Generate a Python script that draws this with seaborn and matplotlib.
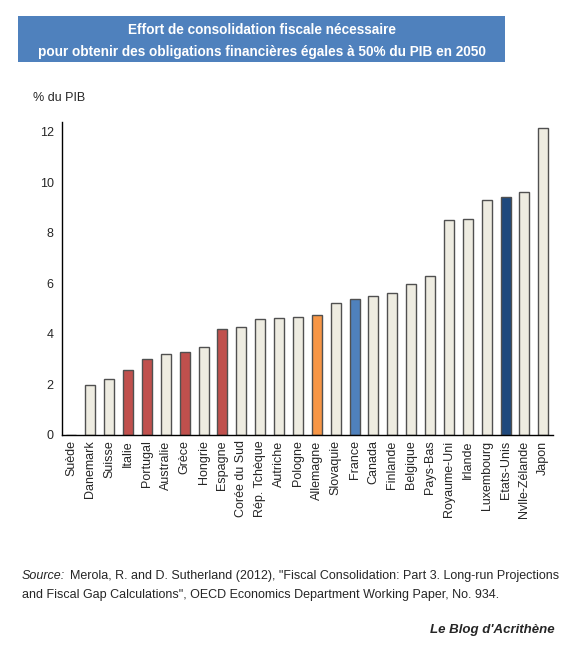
import seaborn as sns
import matplotlib.pyplot as plt
from matplotlib.patches import Rectangle
import pandas as pd

# data
pays = ["Suède", "Danemark", "Suisse", "Italie", "Portugal", "Australie", "Grèce",
        "Hongrie", "Espagne", "Corée du Sud", "Rép. Tchèque", "Autriche", "Pologne",
        "Allemagne", "Slovaquie", "France", "Canada", "Finlande", "Belgique",
        "Pays-Bas", "Royaume-Uni", "Irlande", "Luxembourg", "Etats-Unis",
        "Nvlle-Zélande", "Japon"]
effort = [0.0, 1.96, 2.22, 2.56, 3.0, 3.19, 3.3, 3.49, 4.18, 4.27, 4.6, 4.64, 4.67,
          4.74, 5.23, 5.40, 5.52, 5.62, 5.97, 6.30, 8.5, 8.57, 9.31, 9.42, 9.61, 12.14]
rouges = ["Italie", "Portugal", "Grèce", "Espagne"]
yticks = [0, 2, 4, 6, 8, 10, 12]

beige = "#EEECE1"
couleurs = {}
for p in pays:
    couleurs[p] = beige
for p in rouges:
    couleurs[p] = "#C0504D"
couleurs["Allemagne"] = "#F79646"
couleurs["France"] = "#4F81BD"
couleurs["Etats-Unis"] = "#1F497D"

df = pd.DataFrame({"pays": pays, "effort": effort})

sns.set_style("white")
plt.rcParams["font.family"] = ["Liberation Sans", "DejaVu Sans"]

fig = plt.figure(figsize=(5.8, 6.55), dpi=100)
ax = fig.add_axes([0.107, 0.336, 0.846, 0.478])

sns.barplot(data=df, x="pays", y="effort", hue="pays", palette=couleurs,
            saturation=1, legend=False, width=0.53, edgecolor="#505050",
            linewidth=1.0, ax=ax)

ax.set_ylim(0, 12.4)
ax.set_xlim(-0.5, len(pays) - 0.5)
ax.set_yticks(yticks)
ax.set_yticklabels([str(t) for t in yticks], fontsize=9)
ax.set_xticks(range(len(pays)))
ax.set_xticklabels(pays, rotation=90, fontsize=9)
ax.tick_params(axis="both", length=0, pad=6)
ax.tick_params(axis="x", pad=4)
ax.set_xlabel("")
ax.set_ylabel("")
sns.despine(ax=ax)
for s in ["left", "bottom"]:
    ax.spines[s].set_color("black")
    ax.spines[s].set_linewidth(1.0)

# title box
fig.patches.append(Rectangle((0.031, 0.905), 0.84, 0.071, transform=fig.transFigure,
                             facecolor="#4F81BD", edgecolor="none"))
fig.text(0.451, 0.937, "Effort de consolidation fiscale nécessaire\n"
         "pour obtenir des obligations financières égales à 50% du PIB en 2050",
         ha="center", va="center", color="white", fontsize=9.8, fontweight="bold",
         linespacing=1.75)

fig.text(0.057, 0.851, "% du PIB", ha="left", va="center", fontsize=9)

fig.text(0.038, 0.121, "Source:", ha="left", va="center", fontsize=9, style="italic")
fig.text(0.121, 0.121, "Merola, R. and D. Sutherland (2012), \"Fiscal Consolidation: "
         "Part 3. Long-run Projections", ha="left", va="center", fontsize=9)
fig.text(0.038, 0.092, "and Fiscal Gap Calculations\", OECD Economics Department "
         "Working Paper, No. 934.", ha="left", va="center", fontsize=9)
fig.text(0.957, 0.038, "Le Blog d'Acrithène", ha="right", va="center", fontsize=9.5,
         style="italic", fontweight="bold")

fig.savefig("out.png", dpi=100)
